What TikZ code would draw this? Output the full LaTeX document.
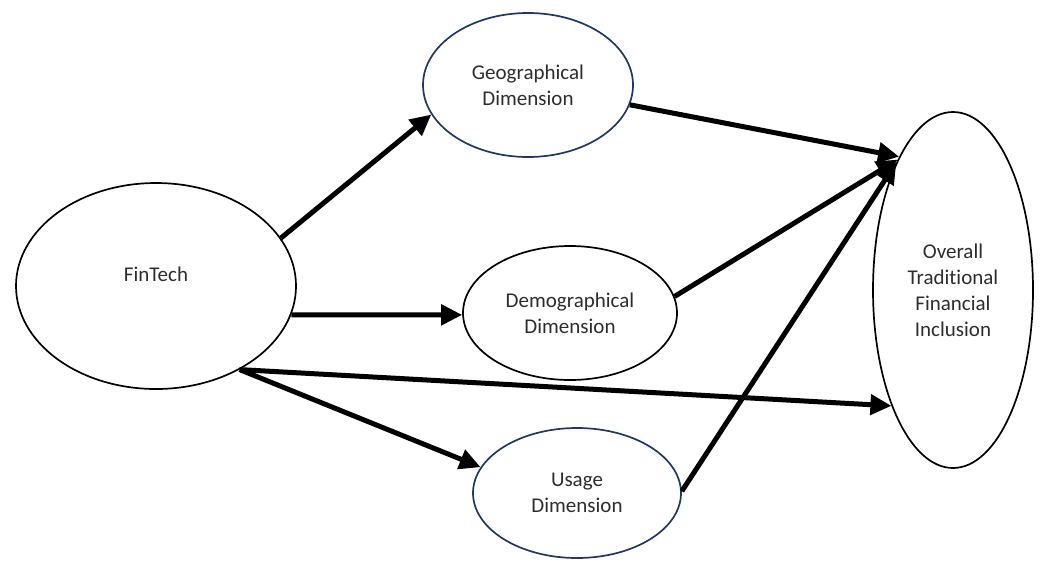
\documentclass[tikz,border=0pt]{standalone}
\usepackage{fontspec}
\setmainfont{Carlito}[Ligatures=NoCommon]
\usepackage{xcolor}
\definecolor{darknavy}{RGB}{31,56,100}
\definecolor{textgray}{RGB}{45,45,45}
\usetikzlibrary{arrows.meta}
\usetikzlibrary{shapes.geometric}
\tikzset{
    construct/.style={draw, ellipse, line width=1.7pt, inner sep=0pt, align=center,
        text=textgray, font=\fontsize{21}{26}\selectfont},
    dimension/.style={construct, draw=darknavy},
    path/.style={line width=5pt, -{Triangle[length=21pt, width=20pt]}}
}

\begin{document}
\begin{tikzpicture}[x=1pt, y=-1pt]
      \useasboundingbox (0,0) rectangle (1040,560);

      \path
          (156,286) node[construct, minimum width=280, minimum height=206, text depth=24pt] (fintech) {FinTech}
          (528,85) node[dimension, minimum width=210, minimum height=144] (geo-dim) {Geographical\\Dimension}
          (570,313) node[construct, minimum width=214, minimum height=134] (demo-dim) {Demographical\\Dimension}
          (577,493) node[dimension, minimum width=208, minimum height=130] (usage-dim) {Usage\\Dimension}
          (953,290) node[construct, minimum width=160, minimum height=356] (overall-fi) {Overall\\Traditional\\Financial\\Inclusion};

      \draw[path] (fintech.21) -- (geo-dim.197);
      \draw[path] (fintech.-12) -- (demo-dim.181);
      \draw[path] (fintech.-45) -- (usage-dim.165);
      \draw[path] (fintech.-45) -- (overall-fi.242);

      \draw[path] (geo-dim.-11) -- (overall-fi.112);
      \draw[path] (demo-dim.9) -- (overall-fi.113);
      \draw[path] (usage-dim.1) -- (overall-fi.114);
    \end{tikzpicture}
\end{document}
